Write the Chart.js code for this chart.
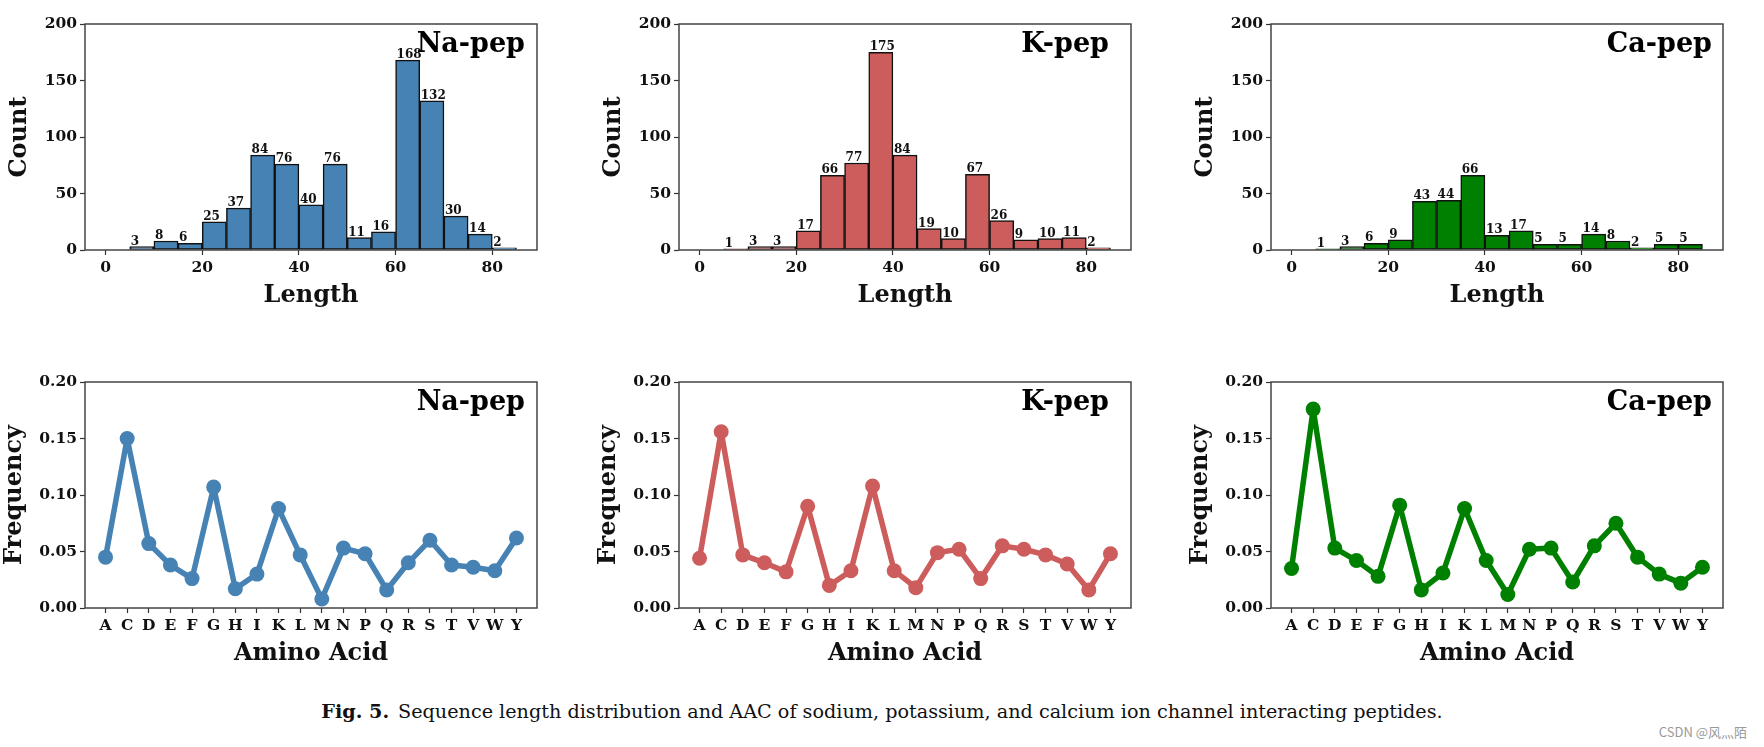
<!DOCTYPE html>
<html>
<head>
<meta charset="utf-8">
<script src="https://cdn.jsdelivr.net/npm/chart.js@4.4.0/dist/chart.umd.min.js"></script>
<style>
  body { margin: 0; background: #fff; width: 1764px; height: 747px; position: relative; overflow: hidden; }
  canvas { position: absolute; }
  #caption { position: absolute; left: 0; width: 1764px; top: 701px; line-height: 22px; text-align: center;
             font-family: "DejaVu Serif", serif; font-size: 19.2px; color: #111; }
  #caption b { margin-right: 9px; }
  #mark { position: absolute; right: 17px; top: 722px; font-family: "Noto Sans CJK SC", sans-serif; font-size: 13px; color: #999; }
</style>
</head>
<body>
<canvas id="lenNa" width="552" height="320"></canvas>
<canvas id="lenK" width="552" height="320"></canvas>
<canvas id="lenCa" width="552" height="320"></canvas>
<canvas id="aacNa" width="552" height="320"></canvas>
<canvas id="aacK" width="552" height="320"></canvas>
<canvas id="aacCa" width="552" height="320"></canvas>
<div id="caption"><b>Fig. 5.</b>Sequence length distribution and AAC of sodium, potassium, and calcium ion channel interacting peptides.</div>
<div id="mark">CSDN @风灬陌</div>
<script>
// length histogram, bins of 5 starting at 0
const binStarts = [0, 5, 10, 15, 20, 25, 30, 35, 40, 45, 50, 55, 60, 65, 70, 75, 80];
const binWidth = 5;
const lengthNa = [0, 3, 8, 6, 25, 37, 84, 76, 40, 76, 11, 16, 168, 132, 30, 14, 2];
const lengthK  = [0, 1, 3, 3, 17, 66, 77, 175, 84, 19, 10, 67, 26, 9, 10, 11, 2];
const lengthCa = [0, 1, 3, 6, 9, 43, 44, 66, 13, 17, 5, 5, 14, 8, 2, 5, 5];
const lengthTicks = [0, 20, 40, 60, 80];
const countTicks = [0, 50, 100, 150, 200];

// amino acid composition
const aminoAcids = ['A','C','D','E','F','G','H','I','K','L','M','N','P','Q','R','S','T','V','W','Y'];
const freqNa = [0.045, 0.150, 0.057, 0.038, 0.026, 0.107, 0.017, 0.030, 0.088, 0.047, 0.008, 0.053, 0.048, 0.016, 0.040, 0.060, 0.038, 0.036, 0.033, 0.062];
const freqK  = [0.044, 0.156, 0.047, 0.040, 0.032, 0.090, 0.020, 0.033, 0.108, 0.033, 0.018, 0.049, 0.052, 0.026, 0.055, 0.052, 0.047, 0.039, 0.016, 0.048];
const freqCa = [0.035, 0.176, 0.053, 0.042, 0.028, 0.091, 0.016, 0.031, 0.088, 0.042, 0.012, 0.052, 0.053, 0.023, 0.055, 0.075, 0.045, 0.030, 0.022, 0.036];
const freqTicks = [0, 0.05, 0.10, 0.15, 0.20];

const serif = '"DejaVu Serif", serif';
const colors = { Na: '#4682b4', K: '#cd5c5c', Ca: '#008000' };

const framePlugin = {
  id: 'frame',
  afterDraw(chart) {
    const { ctx, chartArea: a } = chart;
    ctx.save();
    ctx.strokeStyle = '#444';
    ctx.lineWidth = 1.5;
    ctx.strokeRect(a.left, a.top, a.right - a.left, a.bottom - a.top);
    ctx.restore();
  }
};

const panelLabel = {
  id: 'panelLabel',
  afterDraw(chart, args, opts) {
    const { ctx, chartArea: a } = chart;
    ctx.save();
    ctx.font = 'bold 27px ' + serif;
    ctx.fillStyle = '#000';
    ctx.textAlign = 'right';
    ctx.textBaseline = 'alphabetic';
    ctx.fillText(opts.text, a.right - opts.gap, a.top + 28);
    ctx.restore();
  }
};

const barValues = {
  id: 'barValues',
  afterDatasetsDraw(chart) {
    const { ctx } = chart;
    const meta = chart.getDatasetMeta(0);
    const values = chart.data.datasets[0].data;
    ctx.save();
    ctx.font = 'bold 12px ' + serif;
    ctx.fillStyle = '#111';
    ctx.textAlign = 'left';
    ctx.textBaseline = 'alphabetic';
    meta.data.forEach((bar, i) => {
      const v = values[i].y;
      if (!v) return;
      ctx.fillText(String(v), bar.x - bar.width / 2 + 1, bar.y - 2);
    });
    ctx.restore();
  }
};

function tickGrid() {
  return { display: true, drawOnChartArea: false, drawTicks: true, tickLength: 5, tickWidth: 1.2, tickColor: '#333', offset: false };
}

function yAxis(title, ticks, fmt, titlePad) {
  return {
    type: 'linear',
    min: ticks[0], max: ticks[ticks.length - 1],
    afterBuildTicks: s => { s.ticks = ticks.map(v => ({ value: v })); },
    afterFit: s => { s.width = 85; },
    border: { display: false },
    grid: tickGrid(),
    ticks: { color: '#111', padding: 3, font: { family: serif, size: 15.5, weight: 'bold' }, callback: fmt },
    title: { display: true, text: title, color: '#111', padding: { top: titlePad, bottom: 0 }, font: { family: serif, size: 24, weight: 'bold' } }
  };
}

function xAxis(title, min, max, ticks, fmt) {
  return {
    type: 'linear', min: min, max: max, offset: false,
    afterBuildTicks: s => { s.ticks = ticks.map(v => ({ value: v })); },
    afterFit: s => { s.height = 70; },
    border: { display: false },
    grid: tickGrid(),
    ticks: { color: '#111', padding: 4, maxRotation: 0, autoSkip: false, font: { family: serif, size: 15.5, weight: 'bold' }, callback: fmt },
    title: { display: true, text: title, color: '#111', padding: { top: 0, bottom: 10 }, font: { family: serif, size: 24, weight: 'bold' } }
  };
}

function baseOptions(label, gap) {
  return {
    responsive: false,
    animation: false,
    layout: { padding: { top: 24, right: 15, left: 0, bottom: 0 } },
    plugins: { legend: { display: false }, tooltip: { enabled: false }, panelLabel: { text: label, gap: gap } }
  };
}

function place(id, left, top) {
  const el = document.getElementById(id);
  el.style.left = left + 'px';
  el.style.top = top + 'px';
  return el;
}

function lengthChart(id, left, counts, color, label, gap) {
  const opts = baseOptions(label, gap);
  opts.scales = {
    x: xAxis('Length', -4.25, 89.25, lengthTicks, v => v),
    y: yAxis('Count', countTicks, v => v, 5)
  };
  new Chart(place(id, left, 0), {
    type: 'bar',
    data: {
      datasets: [{
        data: binStarts.map((b, i) => ({ x: b + binWidth / 2, y: counts[i] })),
        backgroundColor: color,
        borderColor: '#111',
        borderWidth: 1.5,
        borderSkipped: false,
        barPercentage: 1,
        categoryPercentage: 1
      }]
    },
    options: opts,
    plugins: [framePlugin, panelLabel, barValues]
  });
}

function aacChart(id, left, freqs, color, label, gap) {
  const opts = baseOptions(label, gap);
  opts.scales = {
    x: xAxis('Amino Acid', -0.95, aminoAcids.length - 0.05, aminoAcids.map((a, i) => i), v => aminoAcids[v]),
    y: yAxis('Frequency', freqTicks, v => v.toFixed(2), 0)
  };
  new Chart(place(id, left, 358), {
    type: 'line',
    data: {
      datasets: [{
        data: freqs.map((f, i) => ({ x: i, y: f })),
        borderColor: color,
        backgroundColor: color,
        pointBackgroundColor: color,
        borderWidth: 5.5,
        pointRadius: 7.5,
        pointBorderWidth: 0,
        borderJoinStyle: 'round',
        borderCapStyle: 'round',
        tension: 0
      }]
    },
    options: opts,
    plugins: [framePlugin, panelLabel]
  });
}

lengthChart('lenNa', 0, lengthNa, colors.Na, 'Na-pep', 12);
lengthChart('lenK', 594, lengthK, colors.K, 'K-pep', 22);
lengthChart('lenCa', 1186, lengthCa, colors.Ca, 'Ca-pep', 11);
aacChart('aacNa', 0, freqNa, colors.Na, 'Na-pep', 12);
aacChart('aacK', 594, freqK, colors.K, 'K-pep', 22);
aacChart('aacCa', 1186, freqCa, colors.Ca, 'Ca-pep', 11);
</script>
</body>
</html>
